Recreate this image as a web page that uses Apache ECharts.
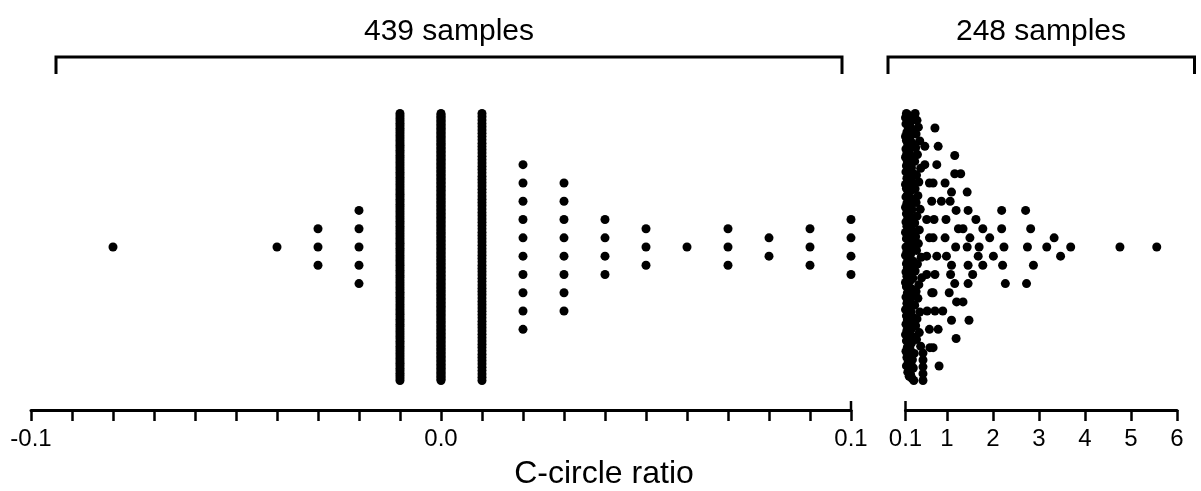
<!DOCTYPE html>
<html><head><meta charset="utf-8">
<script src="https://cdn.jsdelivr.net/npm/echarts@6/dist/echarts.min.js"></script>
<style>html,body{margin:0;padding:0;background:#fff}#c{width:1201px;height:491px}</style>
</head><body><div id="c"></div>
<script>
// ---------------- DATA ----------------
const headerLabels = ['439 samples', '248 samples'];
const axisTitle = 'C-circle ratio';

// left panel: distinct C-circle ratio values and number of samples at each
const leftValues = [-0.08, -0.04, -0.03, -0.02, -0.01, 0.0, 0.01, 0.02, 0.03, 0.04, 0.05, 0.06, 0.07, 0.08, 0.09, 0.1];
const leftCounts = [1, 1, 3, 5, 110, 199, 82, 10, 8, 4, 3, 1, 3, 2, 3, 4];
const leftTickLabels = [-0.1, 0.0, 0.1];

// right panel: individual values
const rightDenseValues = [
  0.12,0.18,0.10,0.25,0.14,0.31,0.11,0.20,0.16,0.27,0.13,0.22,0.10,0.35,0.19,0.12,0.24,0.15,0.29,0.11,
  0.17,0.38,0.13,0.21,0.10,0.26,0.14,0.33,0.18,0.12,0.23,0.16,0.11,0.28,0.20,0.41,0.13,0.15,0.25,0.10,
  0.19,0.32,0.12,0.22,0.17,0.14,0.36,0.11,0.27,0.21,0.13,0.18,0.30,0.10,0.24,0.16,0.12,0.43,0.20,0.15,
  0.26,0.11,0.34,0.19,0.13,0.23,0.17,0.10,0.29,0.14,0.39,0.12,0.21,0.18,0.25,0.11,0.31,0.16,0.13,0.22,
  0.10,0.37,0.20,0.15,0.28,0.12,0.19,0.33,0.14,0.24,0.11,0.17,0.42,0.13,0.26,0.21,0.10,0.35,0.16,0.12,
  0.23,0.18,0.30,0.14,0.27,0.11,0.20,0.40,0.15,0.13,0.25,0.19,0.32,0.10,0.22,0.17,0.12,0.38,0.28,0.14,
  0.21,0.11,0.34,0.16,0.24,0.13,0.19,0.44,0.10,0.26,0.15,0.36,0.12,0.23,0.18,0.31,0.14,0.20,0.11,0.29,
  0.17,0.45,0.13,0.25,0.39,0.16,0.22,0.33,0.12,0.27,0.19,0.37,0.15,0.21,0.30,0.18,0.41,0.24,0.35,0.28,
  0.32,0.40,0.34,0.43
];
const rightSparseValues = [
  0.52,0.74,0.96,1.17, 0.52,0.62,0.81,1.07,1.30, 0.67,0.78,0.98,1.17,1.44, 0.48,0.70,1.46,
  0.56,0.88,1.10,1.35,1.63, 0.48,0.72,0.96,1.20,1.44,1.78,2.19,2.71,
  0.70,1.25,1.46,1.70,1.93,2.19,2.82, 3.33,
  0.78,0.99,1.19,1.78,2.01,2.24,2.75,3.69,4.76,5.56,
  0.48,3.17,3.47, 0.62,0.74,1.08,1.50,2.21,2.88,
  0.56,0.70,1.05,1.46,1.68,2.27,2.73, 0.56,0.74,1.10,1.35,1.56,
  0.67,1.17,1.48, 0.48,0.57,0.81,1.21, 0.48,0.70,0.91,1.10, 0.62,0.83,1.20, 0.63
];
const rightTickLabels = [0.1, 1, 2, 3, 4, 5, 6];

// ---------------- LAYOUT ----------------
const AX_Y = 410, CENTER_Y = 247, TOP = 90;
const LG = { left: 31, width: 820, min: -0.1, max: 0.1, idx: 0 };
const RG = { left: 905.5, width: 271.5, min: 0.1, max: 6, idx: 1 };
const DOT = 9, ROW = 18.3, SPAN = 267, BIN = 0.2;
const FONT = "'Liberation Sans', Arial, sans-serif";

function offsets(n) {
  const s = n > 1 ? Math.min(ROW, SPAN / (n - 1)) : 0;
  const out = [];
  for (let k = 0; k < n; k++) out.push(-((k - (n - 1) / 2) * s));
  return out;
}

const leftData = [];
leftValues.forEach((v, i) => {
  offsets(leftCounts[i]).forEach(y => leftData.push([v, y]));
});

const rightValues = rightDenseValues.concat(rightSparseValues);
const bins = {};
rightValues.forEach(v => {
  const b = Math.floor((v - RG.min) / BIN + 1e-9);
  (bins[b] = bins[b] || []).push(v);
});
const rightData = [];
Object.keys(bins).forEach(b => {
  const vals = bins[b];
  const off = offsets(vals.length);
  vals.forEach((v, k) => rightData.push([v, off[k]]));
});

const leftTicks = [];
for (let i = -10; i <= 10; i++) leftTicks.push(i / 100);

const yMin = -(AX_Y - CENTER_Y), yMax = CENTER_Y - TOP;

function xAxisCfg(g, ticks, labels, fmt) {
  return {
    type: 'value', min: g.min, max: g.max, gridIndex: g.idx,
    axisLine: { show: true, onZero: false, lineStyle: { color: '#000', width: 3 } },
    axisTick: { show: true, length: 11, lineStyle: { color: '#000', width: 2.5 }, customValues: ticks },
    axisLabel: { color: '#000', fontSize: 24, fontFamily: FONT, margin: 17, customValues: labels, formatter: fmt },
    splitLine: { show: false }
  };
}

const chart = echarts.init(document.getElementById('c'), null, { renderer: 'canvas' });
const gridH = AX_Y - TOP;
chart.setOption({
  animation: false,
  backgroundColor: '#fff',
  grid: [
    { left: LG.left, top: TOP, width: LG.width, height: gridH, outerBoundsMode: 'none', containLabel: false },
    { left: RG.left, top: TOP, width: RG.width, height: gridH, outerBoundsMode: 'none', containLabel: false }
  ],
  xAxis: [
    xAxisCfg(LG, leftTicks, leftTickLabels, v => Number(v).toFixed(1)),
    xAxisCfg(RG, rightTickLabels, rightTickLabels, v => (Math.abs(v - 0.1) < 1e-9 ? '0.1' : String(Math.round(v))))
  ],
  yAxis: [
    { type: 'value', gridIndex: 0, min: yMin, max: yMax, show: false },
    { type: 'value', gridIndex: 1, min: yMin, max: yMax, show: false }
  ],
  series: [
    { type: 'scatter', xAxisIndex: 0, yAxisIndex: 0, data: leftData, symbolSize: DOT, clip: false,
      itemStyle: { color: '#000', opacity: 1 }, silent: true },
    { type: 'scatter', xAxisIndex: 1, yAxisIndex: 1, data: rightData, symbolSize: DOT, clip: false,
      itemStyle: { color: '#000', opacity: 1 }, silent: true }
  ],
  graphic: [
    { type: 'polyline', shape: { points: [[56, 74], [56, 57], [842, 57], [842, 74]] },
      style: { stroke: '#000', lineWidth: 3, fill: null } },
    { type: 'polyline', shape: { points: [[888, 74], [888, 57], [1194.5, 57], [1194.5, 74]] },
      style: { stroke: '#000', lineWidth: 3, fill: null } },
    { type: 'text', x: 449, y: 32, style: { text: headerLabels[0], font: '30px ' + FONT, fill: '#000', textAlign: 'center', textVerticalAlign: 'middle' } },
    { type: 'text', x: 1041, y: 32, style: { text: headerLabels[1], font: '30px ' + FONT, fill: '#000', textAlign: 'center', textVerticalAlign: 'middle' } },
    { type: 'text', x: 604, y: 474, style: { text: axisTitle, font: '32px ' + FONT, fill: '#000', textAlign: 'center', textVerticalAlign: 'middle' } },
    { type: 'line', shape: { x1: LG.left + LG.width, y1: AX_Y - 9, x2: LG.left + LG.width, y2: AX_Y }, style: { stroke: '#000', lineWidth: 2.5 } },
    { type: 'line', shape: { x1: RG.left, y1: AX_Y - 9, x2: RG.left, y2: AX_Y }, style: { stroke: '#000', lineWidth: 2.5 } }
  ]
});
</script>
</body></html>
